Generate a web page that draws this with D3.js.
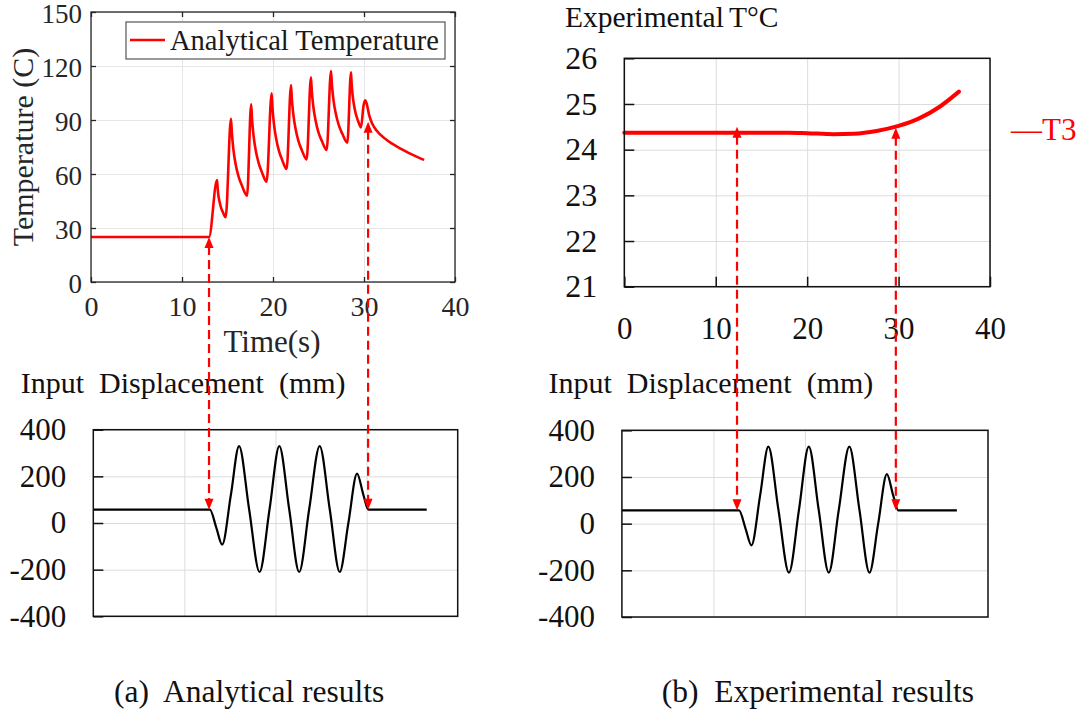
<!DOCTYPE html>
<html><head><meta charset="utf-8">
<script src="https://cdn.jsdelivr.net/npm/d3@7"></script>
<style>
html,body{margin:0;padding:0;background:#fff;}
svg{display:block;font-family:"Liberation Serif","Times New Roman",serif;}
</style></head>
<body>
<svg id="chart" width="1081" height="712"></svg>
<script>
// ---------------- data ----------------
const timeTicks = [0, 10, 20, 30, 40];
const tempTicksA = [0, 30, 60, 90, 120, 150];
const tempTicksB = [21, 22, 23, 24, 25, 26];
const dispTicks = [-400, -200, 0, 200, 400];

const anaTime = [0, 12.97, 13.85, 13.91, 13.99, 14.14, 14.30, 14.52, 14.80, 15.38, 15.49, 15.65, 15.91, 16.21, 16.62, 17.15,
  17.60, 17.70, 17.86, 18.11, 18.40, 18.79, 19.30, 19.85, 19.95, 20.10, 20.35, 20.63, 21.01, 21.50,
  21.98, 22.08, 22.24, 22.50, 22.79, 23.18, 23.70, 24.17, 24.27, 24.43, 24.69, 24.98, 25.38, 25.90,
  26.37, 26.48, 26.64, 26.91, 27.22, 27.63, 28.17, 28.57, 28.64, 28.74, 28.90, 29.09, 29.34, 29.67,
  29.95, 30.12, 30.30, 30.55, 30.90, 31.40, 32.40, 33.96, 35.30, 36.60];
const anaTemp = [25, 25, 56.7, 52.6, 48.4, 44.3, 41.2, 38.5, 36.0, 90.6, 82.1, 73.6, 65.0, 58.7, 53.1, 48.0,
  98.7, 90.1, 81.5, 72.9, 66.5, 60.9, 55.7, 104.8, 96.4, 88.0, 79.6, 73.3, 67.8, 62.8,
  109.4, 101.1, 92.9, 84.6, 78.4, 73.1, 68.1, 113.7, 105.6, 97.5, 89.5, 83.4, 78.2, 73.3,
  117.2, 109.2, 101.3, 93.3, 87.3, 82.2, 77.4, 116.5, 110.4, 104.3, 98.3, 93.6, 89.6, 85.9,
  98.0, 101.0, 99.0, 93.0, 88.0, 84.0, 79.3, 74.3, 70.8, 67.8];

const expTime = [0, 5, 10, 15, 18, 20, 22.9, 25.1, 27.6, 30, 32.3, 34.5, 36.6];
const expTemp = [24.37, 24.37, 24.37, 24.37, 24.37, 24.36, 24.34, 24.35, 24.41, 24.52, 24.69, 24.94, 25.27];

const dispTime = [0, 12.8, 13.5, 14.15, 15.1, 16.0, 17.1, 18.25, 19.35, 20.42, 21.5, 22.6, 23.7, 24.85, 25.95, 27.05, 28.0, 28.95, 29.65, 30.2, 36.6];
const dispValue = [57, 57, -20, -93, 120, 330, 60, -210, 60, 330, 60, -210, 60, 330, 60, -210, 0, 212, 120, 57, 57];

// arrows linking the panels (time, temperature at arrow tip)
const arrowTimeA = [12.97, 30.45];
const arrowTempA = [25, 89];
const arrowTimeB = [12.33, 29.7];
const arrowTempB = [24.5, 24.48];
const arrowDisp = 57;

// ---------------- drawing ----------------
const svg = d3.select("#chart");
svg.append("rect").attr("width", 1081).attr("height", 712).attr("fill", "#fff");
const RED = "#ff0000";
const zip = (a, b) => a.map((v, i) => [v, b[i]]);

function panel(xr, yr, xd, yd, opt) {
  const x = d3.scaleLinear().domain(xd).range(xr);
  const y = d3.scaleLinear().domain(yd).range(yr);
  const g = svg.append("g");
  g.append("g").attr("transform", `translate(0,${yr[0]})`)
    .call(d3.axisBottom(x).tickValues(opt.xt).tickSize(-(yr[0] - yr[1])).tickFormat(""))
    .call(s => s.select(".domain").remove())
    .call(s => s.selectAll("line").attr("stroke", opt.grid).attr("stroke-width", 1));
  g.append("g").attr("transform", `translate(${xr[0]},0)`)
    .call(d3.axisLeft(y).tickValues(opt.yt).tickSize(-(xr[1] - xr[0])).tickFormat(""))
    .call(s => s.select(".domain").remove())
    .call(s => s.selectAll("line").attr("stroke", opt.grid).attr("stroke-width", 1));
  return { x, y, g };
}

function frameAndAxes(p, xr, yr, opt) {
  const { x, y } = p;
  const fa = svg.append("g");
  fa.append("rect").attr("x", xr[0]).attr("y", yr[1]).attr("width", xr[1] - xr[0]).attr("height", yr[0] - yr[1])
    .attr("fill", "none").attr("stroke", opt.frame).attr("stroke-width", opt.fw);
  const la = fa.append("g").attr("transform", `translate(${xr[0]},0)`)
    .call(d3.axisLeft(y).tickValues(opt.yt).tickSize(-opt.tl).tickPadding(opt.ypad).tickFormat(d => String(d)));
  la.select(".domain").remove();
  la.selectAll("line").attr("stroke", opt.frame).attr("stroke-width", opt.fw);
  la.selectAll("text").attr("font-size", opt.yfs).attr("fill", opt.tc).attr("font-family", "Liberation Serif")
    .attr("dy", opt.ydy || "0.32em");
  if (opt.rightTicks) {
    const ra = fa.append("g").attr("transform", `translate(${xr[1]},0)`)
      .call(d3.axisRight(y).tickValues(opt.yt).tickSize(-opt.tl).tickFormat(""));
    ra.select(".domain").remove();
    ra.selectAll("line").attr("stroke", opt.frame).attr("stroke-width", opt.fw);
  }
  if (opt.bottomTicks) {
    const ba = fa.append("g").attr("transform", `translate(0,${yr[0]})`)
      .call(d3.axisBottom(x).tickValues(opt.xt).tickSize(-opt.tl).tickPadding(opt.xpad)
        .tickFormat(opt.xlabels ? (d => String(d)) : ""));
    ba.select(".domain").remove();
    ba.selectAll("line").attr("stroke", opt.frame).attr("stroke-width", opt.fw);
    ba.selectAll("text").attr("font-size", opt.xfs).attr("fill", opt.tc).attr("font-family", "Liberation Serif");
  }
  if (opt.topTicks) {
    const ta = fa.append("g").attr("transform", `translate(0,${yr[1]})`)
      .call(d3.axisTop(x).tickValues(opt.xt).tickSize(-opt.tl).tickFormat(""));
    ta.select(".domain").remove();
    ta.selectAll("line").attr("stroke", opt.frame).attr("stroke-width", opt.fw);
  }
  return fa;
}

// ---- Panel A: analytical temperature ----
const xrA = [91, 455], yrA = [282, 12];
const optA = { xt: timeTicks, yt: tempTicksA, grid: "#e6e6e6", frame: "#262626", fw: 1.3, tl: 5, ypad: 9, xpad: 14,
  yfs: 27, xfs: 28, tc: "#262626", ydy: "0.38em", rightTicks: true, bottomTicks: true, topTicks: true, xlabels: true };
const pA = panel(xrA, yrA, [0, 40], [0, 150], optA);
pA.g.append("path").datum(zip(anaTime, anaTemp))
  .attr("fill", "none").attr("stroke", RED).attr("stroke-width", 2.6).attr("stroke-linejoin", "round")
  .attr("d", d3.line().x(d => pA.x(d[0])).y(d => pA.y(d[1])).curve(d3.curveMonotoneX));
frameAndAxes(pA, xrA, yrA, optA);
const lg = svg.append("g");
lg.append("rect").attr("x", 126).attr("y", 22).attr("width", 319).attr("height", 37)
  .attr("fill", "#fff").attr("stroke", "#555").attr("stroke-width", 1.2);
lg.append("line").attr("x1", 130).attr("x2", 165).attr("y1", 40).attr("y2", 40).attr("stroke", RED).attr("stroke-width", 2.6);
lg.append("text").attr("x", 170).attr("y", 50).attr("font-size", 28.5).attr("fill", "#1a1a1a").text("Analytical Temperature");
svg.append("text").attr("transform", "translate(33,147) rotate(-90)").attr("text-anchor", "middle")
  .attr("font-size", 30).attr("fill", "#262626").text("Temperature (C)");
svg.append("text").attr("x", 272).attr("y", 352).attr("text-anchor", "middle")
  .attr("font-size", 31).attr("fill", "#262626").text("Time(s)");

// ---- Panel B: experimental temperature ----
const xrB = [624.3, 990], yrB = [286.7, 58.3];
const optB = { xt: timeTicks, yt: tempTicksB, grid: "#dcdcdc", frame: "#111", fw: 1.5, tl: 10, ypad: 27, xpad: 30,
  yfs: 32, xfs: 31, tc: "#111", rightTicks: false, bottomTicks: true, topTicks: false, xlabels: true };
const pB = panel(xrB, yrB, [0, 40], [21, 26], optB);
pB.g.append("path").datum(zip(expTime, expTemp))
  .attr("fill", "none").attr("stroke", RED).attr("stroke-width", 4).attr("stroke-linecap", "round")
  .attr("d", d3.line().x(d => pB.x(d[0])).y(d => pB.y(d[1])).curve(d3.curveMonotoneX));
frameAndAxes(pB, xrB, yrB, optB);
svg.append("text").attr("x", 565).attr("y", 27).attr("font-size", 29.5).attr("fill", "#111").text("Experimental");
svg.append("text").attr("x", 729).attr("y", 27).attr("font-size", 29.5).attr("fill", "#111").text("T°C");
svg.append("text").attr("x", 1011).attr("y", 140).attr("font-size", 31).attr("fill", RED).text("—T3");

// ---- Panel C & D: input displacement ----
function dispPanel(xr, yr, titleX) {
  const opt = { xt: [10, 20, 30], yt: dispTicks, grid: "#dcdcdc", frame: "#111", fw: 1.5, tl: 10, ypad: 27, xpad: 10,
    yfs: 31, xfs: 31, tc: "#111", rightTicks: false, bottomTicks: false, topTicks: false, xlabels: false };
  const p = panel(xr, yr, [0, 40], [-400, 400], opt);
  p.g.append("path").datum(zip(dispTime, dispValue))
    .attr("fill", "none").attr("stroke", "#000").attr("stroke-width", 2.2)
    .attr("d", d3.line().x(d => p.x(d[0])).y(d => p.y(d[1])).curve(d3.curveMonotoneX));
  frameAndAxes(p, xr, yr, opt);
  svg.append("text").attr("x", titleX).attr("y", 393).attr("font-size", 30).attr("fill", "#111")
    .style("white-space", "pre").text("Input  Displacement  (mm)");
  return p;
}
const pC = dispPanel([93.3, 457.7], [616.3, 429.7], 20.7);
const pD = dispPanel([621.9, 988], [617, 430.3], 548.4);

// ---- linking arrows ----
function arrows(pTop, pBot, times, temps) {
  const g = svg.append("g");
  times.forEach((t, i) => {
    const x = pTop.x(t);
    const y1 = pTop.y(temps[i]);
    const y2 = pBot.y(arrowDisp);
    g.append("line").attr("x1", x).attr("x2", x).attr("y1", y1 + 9).attr("y2", y2 - 9)
      .attr("stroke", RED).attr("stroke-width", 2.2).attr("stroke-dasharray", "9,5");
    g.append("path").attr("d", `M${x},${y1} L${x - 4.5},${y1 + 11} L${x + 4.5},${y1 + 11} Z`).attr("fill", RED);
    g.append("path").attr("d", `M${x},${y2} L${x - 4.5},${y2 - 11} L${x + 4.5},${y2 - 11} Z`).attr("fill", RED);
  });
}
arrows(pA, pC, arrowTimeA, arrowTempA);
arrows(pB, pD, arrowTimeB, arrowTempB);

// ---- captions ----
svg.append("text").attr("x", 114).attr("y", 702).attr("font-size", 31.5).attr("fill", "#111")
  .style("white-space", "pre").text("(a)  Analytical results");
svg.append("text").attr("x", 661.7).attr("y", 702).attr("font-size", 31.5).attr("fill", "#111")
  .style("white-space", "pre").text("(b)  Experimental results");
</script>
</body></html>
